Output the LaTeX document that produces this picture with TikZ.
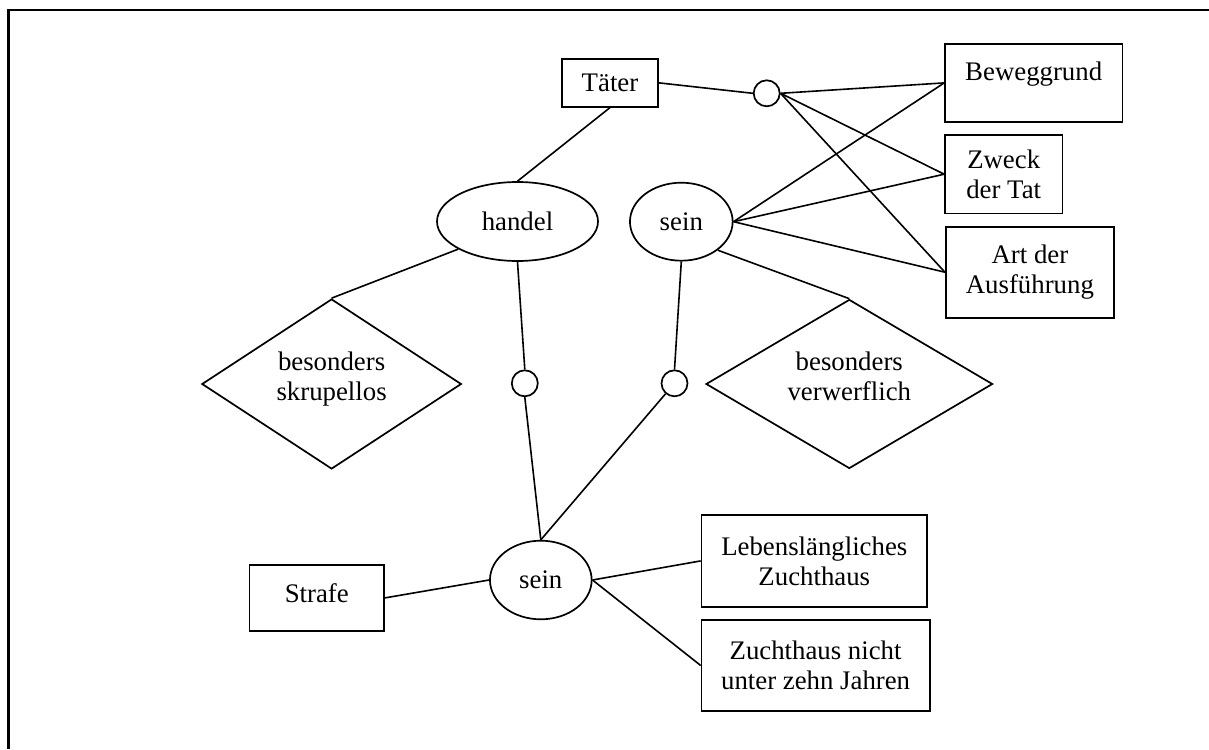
\documentclass[tikz,border=0pt]{standalone}
\usepackage{fontspec}
\setmainfont{Liberation Serif}
\usetikzlibrary{shapes.geometric}
\begin{document}
\begin{tikzpicture}[x=1pt,y=-1pt,
  every node/.style={font=\fontsize{26.8}{30}\selectfont, inner sep=0pt, align=center},
  box/.style={draw, line width=1.7pt, rectangle},
  ell/.style={draw, line width=1.7pt, ellipse},
  rel/.style={draw, line width=1.7pt, diamond},
  knot/.style={draw, line width=1.7pt, circle, minimum size=26pt},
  conn/.style={line width=1.6pt},
  frame/.style={line width=2.2pt}]
\useasboundingbox (0,0) rectangle (1209,749);
\draw[frame] (8.5,749) -- (8.5,10) -- (1209,10);

\node[box, minimum width=96.6pt, minimum height=47.7pt] (tater) at (610,82.9) {Täter};
\node[knot] (circT) at (766.7,93.3) {};
\node[box, minimum width=177.3pt, minimum height=77.7pt, text depth=24pt] (bew) at (1033.7,82.9) {Beweggrund};
\node[box, minimum width=117.3pt, minimum height=78.3pt, text depth=-4pt] (zweck) at (1003.7,174.2) {Zweck\\der Tat};
\node[box, minimum width=168.3pt, minimum height=91pt] (art) at (1029.9,272.2) {Art der\\Ausführung};
\node[ell, minimum width=161pt, minimum height=79pt] (handel) at (517.5,221.5) {handel};
\node[ell, minimum width=102.7pt, minimum height=78pt] (seinA) at (681.3,221.7) {sein};
\node[rel, aspect=1.53, minimum width=259.5pt, minimum height=170pt, text depth=15pt] (dL) at (331.6,384) {besonders\\skrupellos};
\node[rel, aspect=1.7, minimum width=286.6pt, minimum height=169pt, text depth=15pt] (dR) at (849.3,384) {besonders\\verwerflich};
\node[knot] (circL) at (524.8,383.3) {};
\node[knot] (circR) at (674.5,383.3) {};
\node[ell, minimum width=101.7pt, minimum height=78.6pt] (seinB) at (540.8,580) {sein};
\node[box, minimum width=134.5pt, minimum height=65.7pt, text depth=10pt] (strafe) at (316.8,597.9) {Strafe};
\node[box, minimum width=225.5pt, minimum height=91.7pt] (leben) at (814.3,560.9) {Lebenslängliches\\Zuchthaus};
\node[box, minimum width=228.1pt, minimum height=91pt] (zucht) at (815.6,665.5) {Zuchthaus nicht\\unter zehn Jahren};

\draw[conn] (tater.east) -- (circT.west);
\draw[conn] (tater.south) -- (handel.north);
\foreach \t in {bew,zweck,art} {
  \draw[conn] (circT.east) -- (\t.west);
  \draw[conn] (seinA.east) -- (\t.west);
}
\draw[conn] (handel.205) -- (dL.north);
\draw[conn] (seinA.-38) -- (dR.north);
\draw[conn] (handel.south) -- (circL.north);
\draw[conn] (circL.south) -- (seinB.north);
\draw[conn] (seinA.south) -- (circR.north);
\draw[conn] (circR) -- (seinB.north);
\draw[conn] (strafe.east) -- (seinB.west);
\draw[conn] (seinB.east) -- (leben.west);
\draw[conn] (seinB.east) -- (zucht.west);
\end{tikzpicture}
\end{document}
